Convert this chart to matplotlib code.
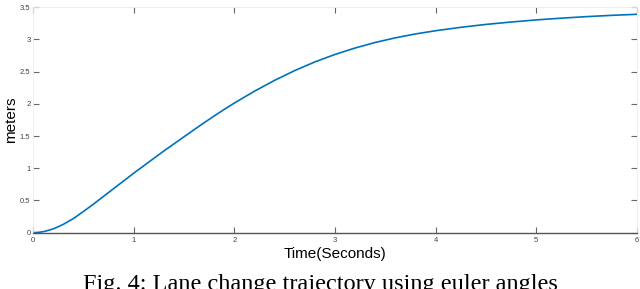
import numpy as np
import matplotlib.pyplot as plt

# lane change trajectory
time_s = [0, 0.05, 0.1, 0.15, 0.2, 0.25, 0.3, 0.4, 0.5, 0.6, 0.7, 0.8, 0.9, 1.0, 1.1,
          1.2, 1.3, 1.4, 1.5, 1.6, 1.7, 1.8, 1.9, 2.0, 2.2, 2.4, 2.6, 2.8, 3.0, 3.2,
          3.4, 3.6, 3.8, 4.0, 4.25, 4.5, 4.75, 5.0, 5.25, 5.5, 5.75, 6.0]
meters = [0, 0.004, 0.015, 0.035, 0.06, 0.093, 0.13, 0.22, 0.33, 0.445, 0.565, 0.685,
          0.805, 0.925, 1.04, 1.155, 1.27, 1.38, 1.49, 1.60, 1.708, 1.813, 1.915, 2.013,
          2.197, 2.365, 2.517, 2.651, 2.767, 2.867, 2.953, 3.025, 3.085, 3.135, 3.188,
          3.233, 3.27, 3.303, 3.33, 3.354, 3.374, 3.39]

x_ticks = [0, 1, 2, 3, 4, 5, 6]
y_ticks = [0, 0.5, 1, 1.5, 2, 2.5, 3, 3.5]
y_tick_labels = ['0', '0.5', '1', '1.5', '2', '2.5', '3', '3.5']
caption = "Fig. 4: Lane change trajectory using euler angles"

fig = plt.figure(figsize=(6.4, 2.89), dpi=100)
ax = fig.add_axes([0.052, 0.195, 0.943, 0.78])

ax.plot(time_s, meters, color='#0072BD', linewidth=1.2)
ax.set_xlim(0, 6)
ax.set_ylim(0, 3.5)
ax.set_xticks(x_ticks)
ax.set_yticks(y_ticks)
ax.set_xticklabels([str(v) for v in x_ticks])
ax.set_yticklabels(y_tick_labels)

for side in ['top', 'left', 'right']:
    ax.spines[side].set_color('#ececec')
    ax.spines[side].set_linewidth(0.6)
ax.spines['bottom'].set_color('#555555')
ax.spines['bottom'].set_linewidth(1.0)

ax.tick_params(axis='both', direction='in', length=4, width=0.8, color='#666666',
               labelsize=5.5, labelcolor='#444444', top=True, right=True, pad=2)
ax.tick_params(axis='x', pad=3)

ax.set_xlabel('Time(Seconds)', fontsize=11, family='Liberation Sans', labelpad=2)
ax.set_ylabel('meters', fontsize=11, family='Liberation Sans', labelpad=1)
for lbl in ax.get_xticklabels() + ax.get_yticklabels():
    lbl.set_family('Liberation Sans')

# caption sits at the bottom edge and is partly cut, as in the source image
fig.text(0.5, 0.052, caption, ha='center', va='top', fontsize=17.5,
         family='Liberation Serif', color='black')

fig.savefig('out.png', dpi=100)
